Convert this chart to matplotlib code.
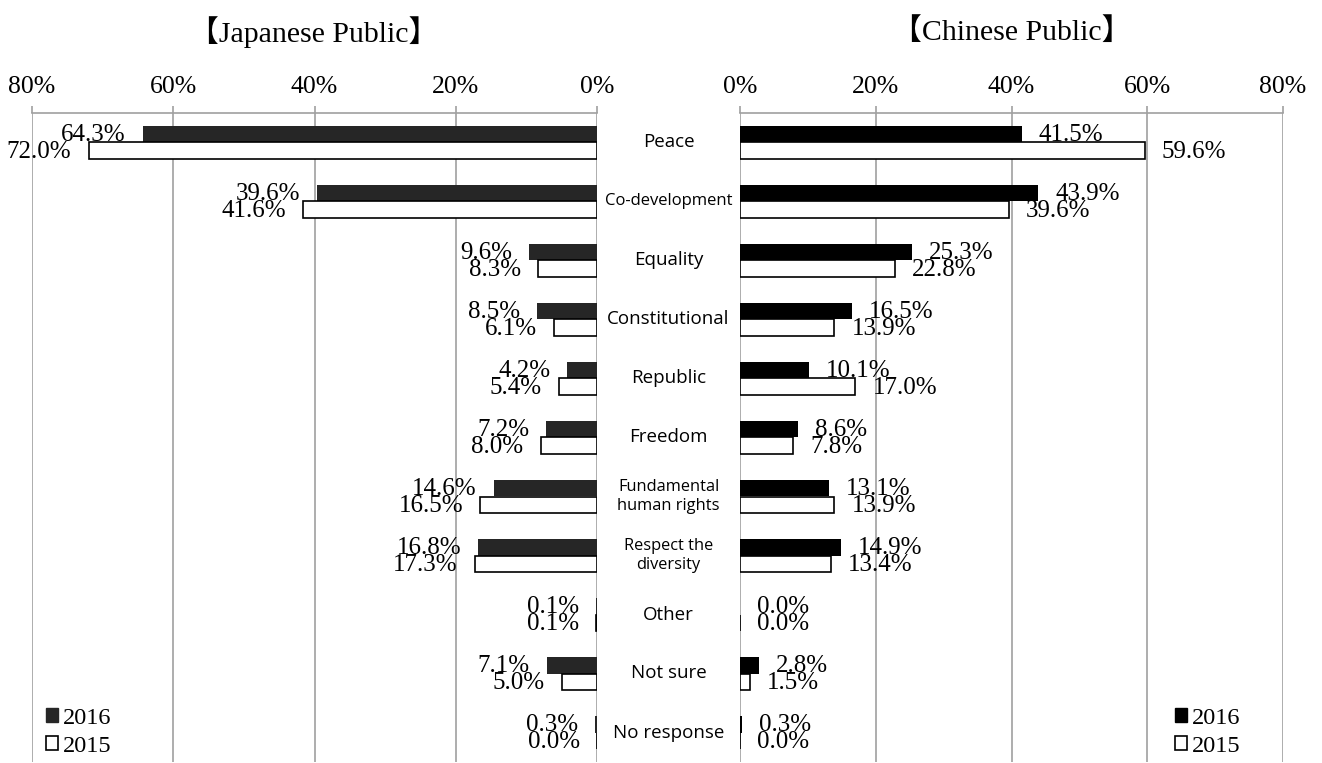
import matplotlib
matplotlib.use("Agg")
import matplotlib.pyplot as plt
import matplotlib.transforms as mtransforms
from matplotlib.patches import Patch
import numpy as np

# Survey answers, one entry per row from top to bottom
categories = ["Peace", "Co-development", "Equality", "Constitutional", "Republic",
              "Freedom", "Fundamental\nhuman rights", "Respect the\ndiversity",
              "Other", "Not sure", "No response"]
label_sizes = [13.5, 12, 13.5, 13.5, 13.5, 13.5, 11.8, 11.8, 13.5, 13.5, 13.5]

japan_2016 = [64.3, 39.6, 9.6, 8.5, 4.2, 7.2, 14.6, 16.8, 0.1, 7.1, 0.3]
japan_2015 = [72.0, 41.6, 8.3, 6.1, 5.4, 8.0, 16.5, 17.3, 0.1, 5.0, 0.0]
china_2016 = [41.5, 43.9, 25.3, 16.5, 10.1, 8.6, 13.1, 14.9, 0.0, 2.8, 0.3]
china_2015 = [59.6, 39.6, 22.8, 13.9, 17.0, 7.8, 13.9, 13.4, 0.0, 1.5, 0.0]

xticks = [0, 20, 40, 60, 80]
serif = ["Liberation Serif", "Noto Sans CJK JP", "DejaVu Serif"]
grid_col = "#a0a0a0"

W, H = 1322, 763
fig = plt.figure(figsize=(W / 100, H / 100), dpi=100)

ax_l = fig.add_axes([32 / W, 1 / H, 565 / W, 649 / H])
ax_r = fig.add_axes([740 / W, 1 / H, 543 / W, 649 / H])

y = np.arange(len(categories))
bh = 0.285


def style_axis(ax, inverted):
    ax.set_xlim(80, 0) if inverted else ax.set_xlim(0, 80)
    ax.set_ylim(len(categories) - 0.5, -0.5)
    ax.set_xticks(xticks)
    ax.set_xticklabels([f"{t}%" for t in xticks], family=serif, fontsize=18.5)
    ax.xaxis.tick_top()
    ax.tick_params(axis="x", direction="out", length=5, width=1.2,
                   color=grid_col, pad=6)
    ax.set_yticks([])
    for side in ["left", "right", "bottom"]:
        ax.spines[side].set_visible(False)
    ax.spines["top"].set_color(grid_col)
    ax.spines["top"].set_linewidth(1.2)
    ax.grid(axis="x", color=grid_col, linewidth=1.2)
    ax.set_axisbelow(True)


def draw_side(ax, v16, v15, dark, inverted):
    ax.barh(y - bh / 2, v16, height=bh, color=dark, edgecolor="none", zorder=2)
    ax.barh(y + bh / 2, v15, height=bh, color="white", edgecolor="black",
            linewidth=1.2, zorder=2)
    dx = -12.3 if inverted else 12.3
    ha = "right" if inverted else "left"
    for yy, v in zip(y - bh / 2, v16):
        ax.annotate(f"{v:.1f}%", xy=(v, yy), xytext=(dx, -1),
                    textcoords="offset points", ha=ha, va="center",
                    family=serif, fontsize=18, zorder=3)
    for yy, v in zip(y + bh / 2, v15):
        ax.annotate(f"{v:.1f}%", xy=(v, yy), xytext=(dx, -1),
                    textcoords="offset points", ha=ha, va="center",
                    family=serif, fontsize=18, zorder=3)


style_axis(ax_l, True)
style_axis(ax_r, False)
draw_side(ax_l, japan_2016, japan_2015, "#262626", True)
draw_side(ax_r, china_2016, china_2015, "#000000", False)

# category names in the gap between the two panels
trans = mtransforms.blended_transform_factory(fig.transFigure, ax_l.transData)
for yy, name, fs in zip(y, categories, label_sizes):
    fig.text(668.5 / W, yy, name, transform=trans, ha="center", va="center",
             family="Open Sans", fontsize=fs, linespacing=1.3)

fig.text(314 / W, 1 - 32 / H, "【Japanese Public】", ha="center", va="center",
         family=serif, fontsize=21.5)
fig.text(1012 / W, 1 - 32 / H, "【Chinese Public】", ha="center", va="center",
         family=serif, fontsize=21.5)

# legends
def add_legend(ax, dark, anchor):
    handles = [Patch(facecolor=dark, edgecolor=dark, label="2016"),
               Patch(facecolor="white", edgecolor="black", linewidth=1.2, label="2015")]
    leg = fig.legend(handles=handles, loc="lower left", bbox_to_anchor=anchor,
                     bbox_transform=fig.transFigure, frameon=False,
                     handlelength=0.5, handleheight=0.5, handletextpad=0.2,
                     labelspacing=0.3, borderpad=0, borderaxespad=0,
                     prop={"family": serif, "size": 17.5})
    return leg

add_legend(ax_l, "#262626", (46 / W, 6 / H))
add_legend(ax_r, "#000000", (1175 / W, 6 / H))

fig.savefig("out.png", dpi=100)
